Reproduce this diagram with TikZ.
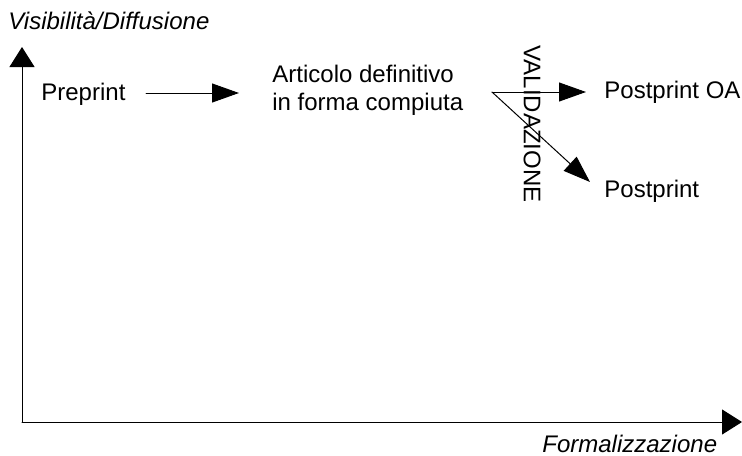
\documentclass[tikz,border=0pt]{standalone}
\usepackage{fontspec}
\setmainfont{Liberation Sans}
\usetikzlibrary{arrows.meta}

\begin{document}
\begin{tikzpicture}[line cap=round,line join=round,>={Triangle[length=13.5pt,width=9.5pt]},x=0.5pt,y=-0.5pt,font=\fontsize{12}{14}\selectfont]
			\useasboundingbox (0,0) rectangle (742,455);
			\tikzset{lbl/.style={inner sep=0pt,anchor=base west},
				axisarrow/.style={-{Triangle[length=10pt,width=12.5pt]},line width=0.5pt},
				flow/.style={->,line width=0.5pt}}
			% assi
			\coordinate (O) at (22,422);
			\coordinate (Ytip) at (22,47);
			\coordinate (Xtip) at (742,422);
			\draw [axisarrow] (O)-- (Ytip);
			\draw [axisarrow] (O)-- (Xtip);
			\node[lbl,font=\fontsize{12}{14}\selectfont\itshape] (visib) at (8,29) {Visibilità/Diffusione};
			\node[lbl,font=\fontsize{12}{14}\selectfont\itshape] (formal) at (542,452) {Formalizzazione};
			% testi
			\node[lbl] (preprint) at (41,100) {Preprint};
			\node[lbl,align=left] (articolo) at (272,110) {Articolo definitivo\\in forma compiuta};
			\node[lbl] (postOA) at (604,98) {Postprint OA};
			\node[lbl] (post) at (604,197) {Postprint};
			\node[inner sep=0pt,rotate=-90] (valid) at (532,124) {VALIDAZIONE};
			% frecce
			\coordinate (p1) at (146,93);
			\coordinate (p2) at (239,93);
			\coordinate (v0) at (492,92);
			\coordinate (v1) at (586,92);
			\coordinate (v2) at (590,182);
			\draw [flow] (p1)-- (p2);
			\draw [flow] (v0)-- (v1);
			\draw [flow] (v0)-- (v2);
		\end{tikzpicture}
\end{document}
